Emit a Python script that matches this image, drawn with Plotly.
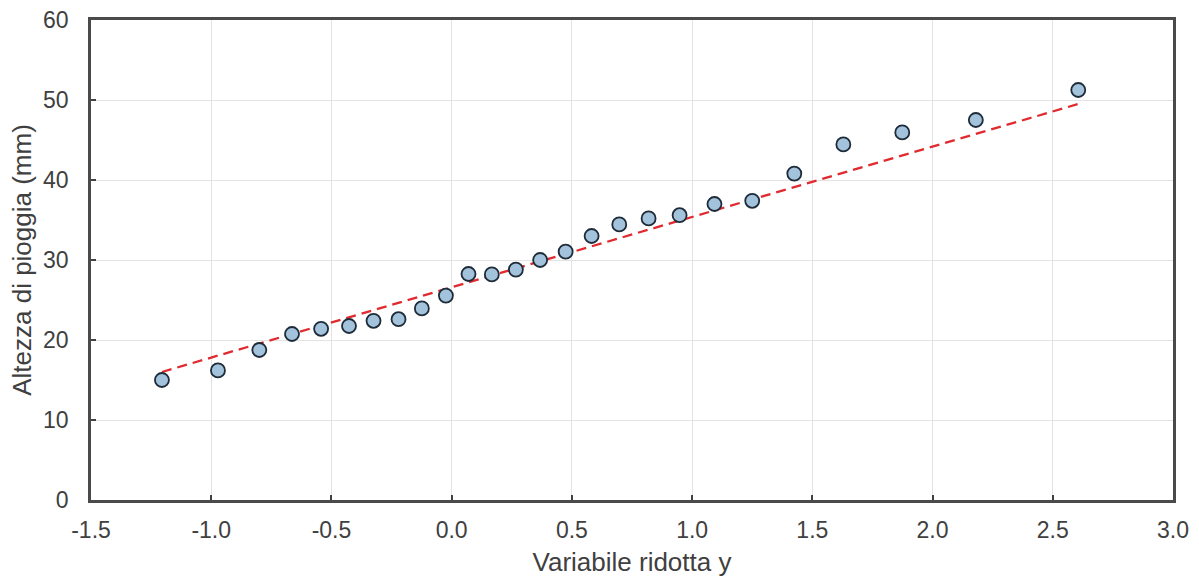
import plotly.graph_objects as go

# Data
reduced_variable = [-1.205, -0.972, -0.80, -0.664, -0.543, -0.427, -0.325, -0.221,
                    -0.124, -0.024, 0.070, 0.167, 0.267, 0.368, 0.474, 0.582,
                    0.697, 0.819, 0.948, 1.093, 1.250, 1.425, 1.629, 1.874,
                    2.180, 2.606]
rain_height = [15.0, 16.2, 18.75, 20.75, 21.4, 21.75, 22.4, 22.6,
               23.95, 25.55, 28.25, 28.2, 28.8, 30.0, 31.05, 33.0,
               34.45, 35.2, 35.6, 37.0, 37.4, 40.8, 44.45, 45.95,
               47.5, 51.25]
fit_x = [-1.205, 2.606]
fit_y = [16.0, 49.5]

x_ticks = [-1.5, -1.0, -0.5, 0.0, 0.5, 1.0, 1.5, 2.0, 2.5, 3.0]
x_tick_labels = ["-1.5", "-1.0", "-0.5", "0.0", "0.5", "1.0", "1.5", "2.0", "2.5", "3.0"]
y_ticks = [0, 10, 20, 30, 40, 50, 60]

fig = go.Figure()
fig.add_trace(go.Scatter(
    x=fit_x, y=fit_y, mode="lines",
    line=dict(color="#E02A2F", width=2.3, dash="10px,6px"),
    showlegend=False, hoverinfo="skip"))
fig.add_trace(go.Scatter(
    x=reduced_variable, y=rain_height, mode="markers",
    marker=dict(size=14, color="#A3C2DC", line=dict(color="#1E2B38", width=1.8)),
    showlegend=False))

font_family = "Liberation Sans, Arial, sans-serif"
axis_common = dict(
    showline=True, mirror=True, linecolor="#4A4A4A", linewidth=2.5,
    showgrid=True, gridcolor="#E3E3E3", gridwidth=1,
    zeroline=False, ticks="inside", ticklen=5, tickwidth=1.5, tickcolor="#404040",
    tickfont=dict(family=font_family, size=23, color="#404040"),
    automargin=False,
)

fig.update_xaxes(
    range=[-1.5, 3.0], tickvals=x_ticks, ticktext=x_tick_labels,
    title=dict(text="Variabile ridotta y", font=dict(family=font_family, size=26, color="#404040"),
               standoff=11),
    ticklabelstandoff=8,
    **axis_common)
fig.update_yaxes(
    range=[0, 60], tickvals=y_ticks,
    title=dict(text="Altezza di pioggia (mm)", font=dict(family=font_family, size=26, color="#404040"),
               standoff=4),
    ticklabelstandoff=15,
    **axis_common)

fig.update_layout(
    width=1199, height=581,
    margin=dict(l=91, r=26, t=20, b=81),
    paper_bgcolor="white", plot_bgcolor="white",
    font=dict(family=font_family, color="#404040"),
)

fig.write_html("out.html")
